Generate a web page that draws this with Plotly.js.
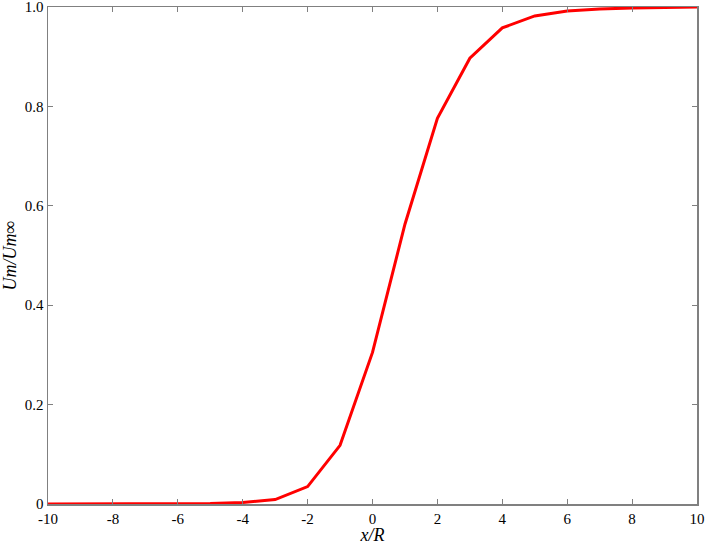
<!DOCTYPE html>
<html>
<head>
<meta charset="utf-8">
<script src="https://cdn.plot.ly/plotly-3.0.1.min.js"></script>
<style>
  body { margin: 0; background: #fff; }
  #graph { width: 706px; height: 545px; }
</style>
</head>
<body>
<div id="graph"></div>
<script>
  // distance along the axis, normalised by R
  var xR = [-10, -9, -8, -7, -6, -5, -4, -3, -2, -1, 0, 1, 2, 3, 4, 5, 6, 7, 8, 9, 10];
  // Um / Um-infinity
  var umRatio = [0, 0, 0, 0, 0.0005, 0.001, 0.003, 0.009, 0.035, 0.118, 0.305, 0.563, 0.776, 0.897, 0.958, 0.982, 0.992, 0.996, 0.998, 0.999, 1.0];

  var xTicks = [-10, -8, -6, -4, -2, 0, 2, 4, 6, 8, 10];
  var yTicks = [0, 0.2, 0.4, 0.6, 0.8, 1.0];
  var yTickText = ['0', '0.2', '0.4', '0.6', '0.8', '1.0'];

  var serif = 'Liberation Serif';

  var trace = {
    x: xR,
    y: umRatio,
    mode: 'lines',
    type: 'scatter',
    line: { color: '#ff0000', width: 3 },
    cliponaxis: false
  };

  var axisStyle = {
    showgrid: false,
    zeroline: false,
    showline: true,
    linecolor: '#808080',
    linewidth: 1.5,
    mirror: 'ticks',
    ticks: 'inside',
    ticklen: 5,
    tickcolor: '#808080',
    tickwidth: 1,
    layer: 'above traces',
    ticklabeloverflow: 'allow',
    tickfont: { family: serif, size: 15, color: '#000' }
  };

  var layout = {
    width: 706,
    height: 545,
    margin: { l: 48, r: 9, t: 7, b: 41 },
    paper_bgcolor: '#fff',
    plot_bgcolor: '#fff',
    showlegend: false,
    font: { family: serif, color: '#000' },
    xaxis: Object.assign({}, axisStyle, {
      range: [-10, 10],
      tickvals: xTicks,
      ticktext: xTicks.map(String),
      title: { text: '<i>x/R</i>', font: { family: serif, size: 18, color: '#000' } }
    }),
    yaxis: Object.assign({}, axisStyle, {
      range: [0, 1],
      tickvals: yTicks,
      ticktext: yTickText,
      title: { text: '<i>Um/Um∞</i>', font: { family: serif, size: 18, color: '#000' } }
    })
  };

  Plotly.newPlot('graph', [trace], layout, { displayModeBar: false, staticPlot: true });
</script>
</body>
</html>
